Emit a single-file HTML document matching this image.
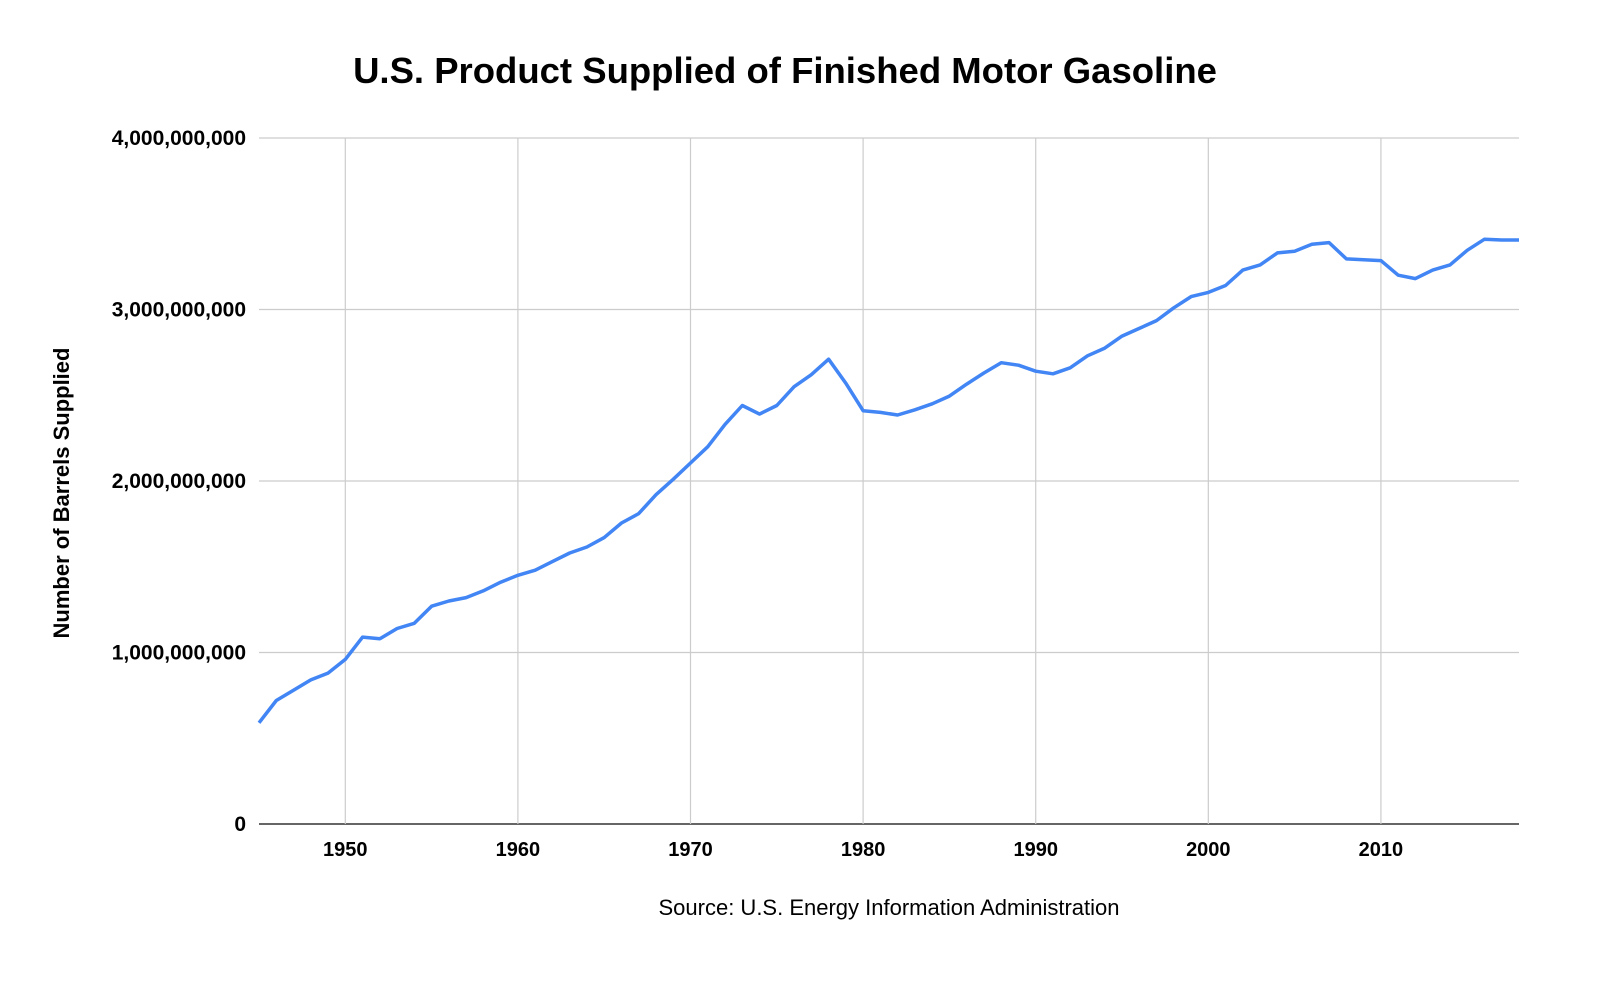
<!DOCTYPE html>
<html><head><meta charset="utf-8">
<style>
html,body{margin:0;padding:0;background:#fff;}
svg{display:block;font-family:"Liberation Sans",Arial,sans-serif;}
</style></head>
<body>
<svg id="chart" width="1600" height="989" viewBox="0 0 1600 989">
<rect width="1600" height="989" fill="#fff"/>
<text x="785" y="83" text-anchor="middle" font-size="36.5" font-weight="bold" fill="#000">U.S. Product Supplied of Finished Motor Gasoline</text>
<text transform="translate(69,493) rotate(-90)" text-anchor="middle" font-size="22" font-weight="bold" fill="#000">Number of Barrels Supplied</text>
<text x="889" y="915" text-anchor="middle" font-size="22" fill="#000">Source: U.S. Energy Information Administration</text>
<g id="grid"></g>
<g id="ylabels"></g>
<g id="xlabels"></g>
<path id="line" fill="none" stroke="#4285f4" stroke-width="3.5" stroke-linejoin="round"/>
</svg>
<script>
const startYear = 1945;
const values = [0.59,0.72,0.78,0.84,0.88,0.96,1.09,1.08,1.14,1.17,1.27,1.30,1.32,1.36,1.41,1.45,1.48,1.53,1.58,1.615,1.67,1.755,1.81,1.92,2.01,2.105,2.20,2.33,2.44,2.39,2.44,2.55,2.62,2.71,2.57,2.41,2.40,2.385,2.415,2.45,2.495,2.565,2.63,2.69,2.675,2.64,2.625,2.66,2.73,2.775,2.845,2.89,2.935,3.01,3.075,3.10,3.14,3.23,3.26,3.33,3.34,3.38,3.39,3.295,3.29,3.285,3.20,3.18,3.23,3.26,3.345,3.41,3.405,3.405];
const yTicks = [0,1,2,3,4];
const yTickLabels = ["0","1,000,000,000","2,000,000,000","3,000,000,000","4,000,000,000"];
const xTicks = [1950,1960,1970,1980,1990,2000,2010];

const X0=259, X1=1519, Y0=824, Y1=138;
const endYear = startYear + values.length - 1;
function xs(yr){return X0+(yr-startYear)/(endYear-startYear)*(X1-X0);}
function ys(v){return Y0-(v/4)*(Y0-Y1);}
const NS="http://www.w3.org/2000/svg";
const grid=document.getElementById('grid'), yl=document.getElementById('ylabels'), xl=document.getElementById('xlabels');

yTicks.forEach((t,i)=>{
  const l=document.createElementNS(NS,'line');
  l.setAttribute('x1',X0);l.setAttribute('x2',X1);l.setAttribute('y1',ys(t));l.setAttribute('y2',ys(t));
  l.setAttribute('stroke',t===0?'#333':'#ccc');l.setAttribute('stroke-width',t===0?1.5:1.2);
  
  
  grid.appendChild(l);
  const tx=document.createElementNS(NS,'text');
  tx.setAttribute('x',246);tx.setAttribute('y',ys(t)+7);tx.setAttribute('text-anchor','end');
  tx.setAttribute('font-size','21');tx.setAttribute('font-weight','bold');
  tx.textContent=yTickLabels[i];
  
  
  yl.appendChild(tx);
});
xTicks.forEach(t=>{
  const l=document.createElementNS(NS,'line');
  l.setAttribute('x1',xs(t));l.setAttribute('x2',xs(t));l.setAttribute('y1',Y1);l.setAttribute('y2',Y0);
  l.setAttribute('stroke','#ccc');l.setAttribute('stroke-width',1.2);
  
  
  grid.appendChild(l);
  const tx=document.createElementNS(NS,'text');
  tx.setAttribute('x',xs(t));tx.setAttribute('y',856);tx.setAttribute('text-anchor','middle');
  tx.setAttribute('font-size','20');tx.setAttribute('font-weight','bold');
  tx.textContent=t;
  
  
  xl.appendChild(tx);
});
document.getElementById('line').setAttribute('d',values.map((v,i)=>(i?'L':'M')+xs(startYear+i).toFixed(1)+','+ys(v).toFixed(1)).join(' '));
</script>
</body></html>
